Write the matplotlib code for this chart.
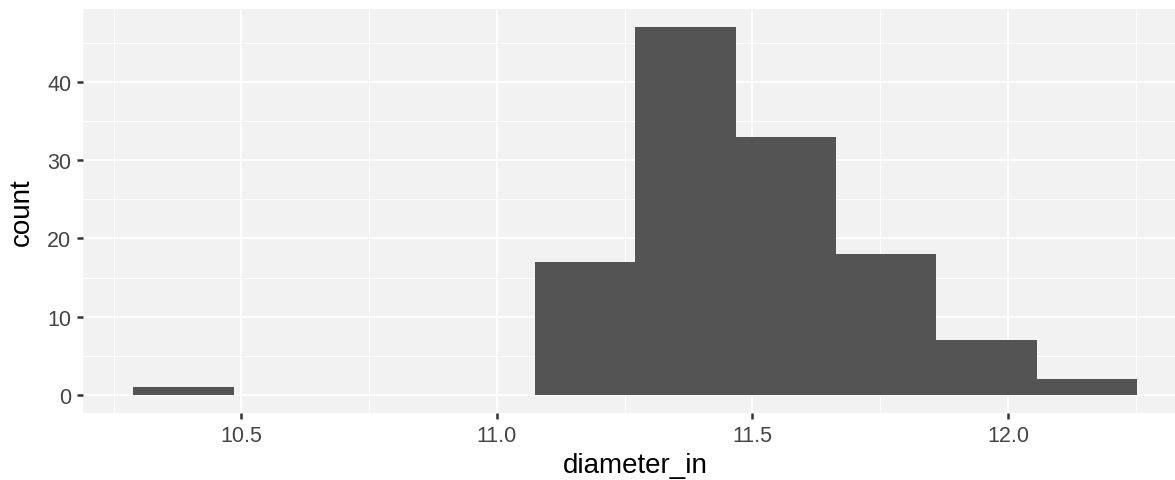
import numpy as np
import matplotlib
matplotlib.use('Agg')
import matplotlib.pyplot as plt

plt.rcParams['font.family'] = ['Liberation Sans', 'DejaVu Sans']

# histogram
bin_start = 10.288
bin_width = 0.1965
counts = [1, 0, 0, 0, 17, 47, 33, 18, 7, 2]
x_ticks = [10.5, 11.0, 11.5, 12.0]
y_ticks = [0, 10, 20, 30, 40]

edges = bin_start + bin_width * np.arange(len(counts) + 1)

fig = plt.figure(figsize=(11.75, 4.81), dpi=100)
ax = fig.add_axes([0.0706, 0.139, 0.94, 0.84])
ax.set_facecolor('#f2f2f2')

ax.bar(edges[:-1], counts, width=bin_width, align='edge', color='#545454', zorder=3)

lo, hi = edges[0], edges[-1]
pad = (hi - lo) * 0.05
ax.set_xlim(lo - pad, hi + pad)
ax.set_ylim(-0.05 * max(counts), 1.05 * max(counts))

ax.set_xticks(x_ticks)
ax.set_xticklabels(['10.5', '11.0', '11.5', '12.0'])
ax.set_yticks(y_ticks)
ax.set_xticks([10.25, 10.75, 11.25, 11.75, 12.25], minor=True)
ax.set_yticks([5, 15, 25, 35, 45], minor=True)
ax.grid(True, which='major', color='white', linewidth=1.3, zorder=0)
ax.grid(True, which='minor', color='white', linewidth=0.6, zorder=0)
ax.set_axisbelow(True)
for s in ax.spines.values():
    s.set_visible(False)

ax.tick_params(which='major', length=4.5, width=1.8, color='#333333',
               labelsize=15.5, labelcolor='#444444', pad=4)
ax.tick_params(which='minor', length=0)
ax.set_xlabel('diameter_in', fontsize=20, labelpad=4.5)
ax.set_ylabel('count', fontsize=20, labelpad=9)

fig.savefig('out.png', dpi=100)
